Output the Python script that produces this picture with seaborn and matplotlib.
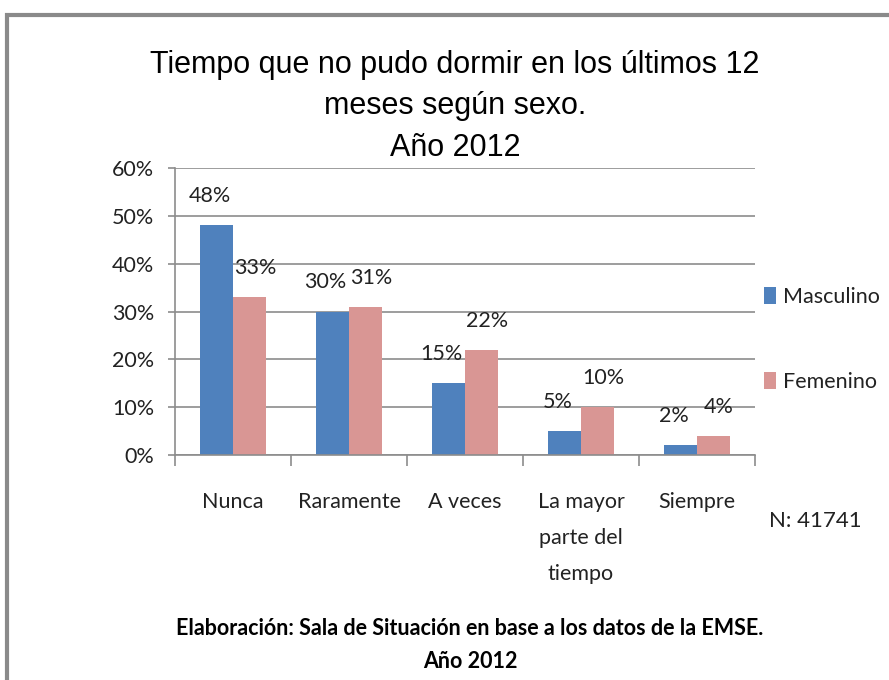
import matplotlib
matplotlib.use("Agg")
import matplotlib.pyplot as plt
import matplotlib.patches as mpatches
import seaborn as sns
import pandas as pd

categories = ["Nunca", "Raramente", "A veces", "La mayor\nparte del\ntiempo", "Siempre"]
series_names = ["Masculino", "Femenino"]
masculino = [48, 30, 15, 5, 2]
femenino = [33, 31, 22, 10, 4]
y_ticks = [0, 10, 20, 30, 40, 50, 60]
y_tick_labels = ["0%", "10%", "20%", "30%", "40%", "50%", "60%"]

title = "Tiempo que no pudo dormir en los últimos 12\nmeses según sexo.\nAño 2012"
footer = "Elaboración: Sala de Situación en base a los datos de la EMSE.\nAño 2012"
n_text = "N: 41741"

sns.set_theme(style="white")
plt.rcParams['font.family'] = ['Lato', 'DejaVu Sans']
TXT = "#222222"

df = pd.DataFrame({
    "cat": categories * 2,
    "sexo": [series_names[0]] * len(categories) + [series_names[1]] * len(categories),
    "val": masculino + femenino,
})

colors = {"Masculino": "#4F81BD", "Femenino": "#D99694"}

fig = plt.figure(figsize=(8.89, 6.80), dpi=100)
ax = fig.add_axes([175/889, 1-455/680, 580/889, 287/680])

sns.barplot(data=df, x="cat", y="val", hue="sexo", palette=colors, width=0.57,
            ax=ax, saturation=1, edgecolor="none", legend=True)

ax.set_ylim(0, 60)
ax.set_xlim(-0.5, 4.5)
ax.set_yticks(y_ticks)
ax.set_yticklabels(y_tick_labels, fontsize=15.5, color=TXT)
ax.yaxis.grid(True, color="#8c8c8c", linewidth=1.2)
ax.set_axisbelow(True)
ax.set_xlabel("")
ax.set_ylabel("")
ax.tick_params(axis="x", which="major", length=0, pad=27, labelsize=15.5, labelcolor=TXT)
ax.set_xticks([i - 0.5 for i in range(len(categories) + 1)], minor=True)
ax.tick_params(axis="x", which="minor", length=8, color="#8c8c8c", width=1.2, direction="out", bottom=True)
ax.tick_params(axis="y", which="major", length=5, color="#8c8c8c", width=1.2, left=True, pad=10)
for lbl in ax.get_xticklabels():
    lbl.set_linespacing(2.0)
    lbl.set_verticalalignment("top")

for s in ["top", "right"]:
    ax.spines[s].set_visible(False)
for s in ["left", "bottom"]:
    ax.spines[s].set_color("#8c8c8c")
    ax.spines[s].set_linewidth(1.2)

dx = [-5, 4]
for ci, cont in enumerate(ax.containers):
    for bar in cont:
        h = bar.get_height()
        ax.annotate(f"{int(round(h))}%", (bar.get_x() + bar.get_width()/2, h),
                    xytext=(dx[ci], 21), textcoords="offset points",
                    ha="center", va="center", fontsize=15.5, color=TXT)

leg = ax.legend(loc="upper left", bbox_to_anchor=(764/889, 1-287/680), bbox_transform=fig.transFigure,
                frameon=False, fontsize=15.5, handlelength=0.55, handleheight=0.85,
                handletextpad=0.35, labelspacing=3.0, borderaxespad=0, borderpad=0)
for t in leg.get_texts():
    t.set_color(TXT)

fig.text(455/889, 1-106/680, title, ha="center", va="center", fontsize=22,
         family=['Liberation Sans', 'DejaVu Sans'], linespacing=1.5, color="black")
fig.text(470/889, 1-645/680, footer, ha="center", va="center", fontsize=15.5,
         fontweight="bold", linespacing=1.65, color="black")
fig.text(815/889, 1-521/680, n_text, ha="center", va="center", fontsize=16, color=TXT)

frame = mpatches.Rectangle((7/889, -0.1), 1.2, (1-15/680) + 0.1, transform=fig.transFigure,
                           fill=False, edgecolor="#8a8a8a", linewidth=3, clip_on=False)
fig.patches.append(frame)

fig.savefig("out.png", dpi=100, facecolor="white")
